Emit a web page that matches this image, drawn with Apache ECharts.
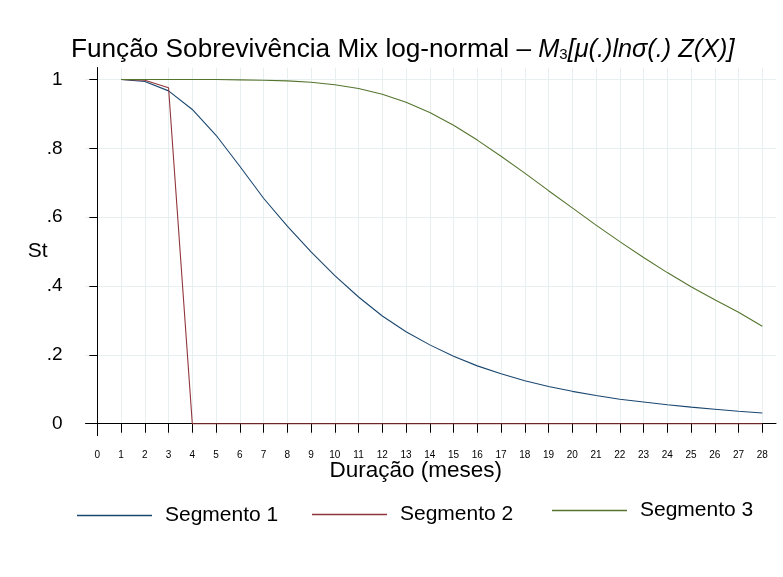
<!DOCTYPE html>
<html>
<head>
<meta charset="utf-8">
<title>Função Sobrevivência Mix log-normal</title>
<script src="https://cdn.jsdelivr.net/npm/echarts@6/dist/echarts.min.js"></script>
<style>
  html, body { margin: 0; padding: 0; background: #ffffff; }
  #chart { width: 783px; height: 577px; }
</style>
</head>
<body>
<div id="chart"></div>
<script>
// Survival duration in months
const months = [1, 2, 3, 4, 5, 6, 7, 8, 9, 10, 11, 12, 13, 14, 15, 16, 17, 18, 19, 20, 21, 22, 23, 24, 25, 26, 27, 28];

// Estimated survival function St for each segment
const segmento1 = [1.000, 0.994, 0.967, 0.913, 0.838, 0.748, 0.655, 0.574, 0.499, 0.430, 0.368, 0.313, 0.267, 0.229,
                   0.196, 0.168, 0.145, 0.125, 0.108, 0.094, 0.082, 0.071, 0.063, 0.055, 0.048, 0.042, 0.036, 0.031];
const segmento2 = [1.000, 0.998, 0.976, 0.000, 0.000, 0.000, 0.000, 0.000, 0.000, 0.000, 0.000, 0.000, 0.000, 0.000,
                   0.000, 0.000, 0.000, 0.000, 0.000, 0.000, 0.000, 0.000, 0.000, 0.000, 0.000, 0.000, 0.000, 0.000];
const segmento3 = [1.000, 1.000, 1.000, 1.000, 1.000, 0.999, 0.998, 0.996, 0.992, 0.985, 0.974, 0.957, 0.934, 0.904,
                   0.867, 0.824, 0.777, 0.728, 0.677, 0.627, 0.577, 0.529, 0.483, 0.439, 0.398, 0.360, 0.324, 0.283];

// Axis ticks
const xTicks = [0, 1, 2, 3, 4, 5, 6, 7, 8, 9, 10, 11, 12, 13, 14, 15, 16, 17, 18, 19, 20, 21, 22, 23, 24, 25, 26, 27, 28];
const yTicks = [0, 0.2, 0.4, 0.6, 0.8, 1];
const yTickLabels = ['0', '.2', '.4', '.6', '.8', '1'];

const seriesNames = ['Segmento 1', 'Segmento 2', 'Segmento 3'];
const seriesColors = ['#1a476f', '#90353b', '#55752f'];
const seriesData = [segmento1, segmento2, segmento3];

const FONT = '"Liberation Sans", Arial, sans-serif';
const GRID_COLOR = '#e7eff0';

const chart = echarts.init(document.getElementById('chart'), null, { renderer: 'canvas' });

const series = seriesNames.map((name, i) => ({
  name: name,
  type: 'line',
  data: months.map((m, k) => [m, seriesData[i][k]]),
  symbol: 'none',
  smooth: false,
  lineStyle: { color: seriesColors[i], width: 1.1 },
  itemStyle: { color: seriesColors[i] },
  emphasis: { disabled: true },
  z: 3
}));

// One legend box per series so each key can sit where it belongs
function legendAt(name, left, top) {
  return {
    data: [{ name: name, icon: 'rect' }],
    left: left,
    top: top,
    padding: 0,
    orient: 'horizontal',
    itemWidth: 75,
    itemHeight: 1.5,
    selectedMode: false,
    textStyle: { fontFamily: FONT, fontSize: 21, color: '#000', padding: [0, 0, 0, 8] }
  };
}

chart.setOption({
  animation: false,
  backgroundColor: '#ffffff',
  title: {
    left: 71,
    top: 37,
    padding: 0,
    text: '{a|Função Sobrevivência Mix log-normal – }{b|M}{s|3}{b|[μ(.)lnσ(.) Z(X)]}',
    textStyle: {
      fontWeight: 'normal',
      rich: {
        a: { fontFamily: FONT, fontSize: 26.2, fontWeight: 'normal', color: '#000' },
        b: { fontFamily: FONT, fontSize: 25.3, fontStyle: 'italic', fontWeight: 'normal', color: '#000' },
        s: { fontFamily: FONT, fontSize: 15, fontWeight: 'normal', color: '#000', padding: [9, 0, 0, 0] }
      }
    }
  },
  legend: [
    legendAt(seriesNames[0], 77, 505),
    legendAt(seriesNames[1], 312, 504),
    legendAt(seriesNames[2], 552, 500)
  ],
  grid: { left: 85.5, right: 7, top: 67.5, bottom: 141.3, containLabel: false },
  xAxis: {
    type: 'value',
    min: -0.497,
    max: 28.577,
    name: 'Duração (meses)',
    nameLocation: 'middle',
    nameMoveOverlap: false,
    nameGap: 24,
    nameTextStyle: { fontFamily: FONT, fontSize: 22.5, color: '#000', padding: [0, 30, 0, 0] },
    axisLine: { show: true, lineStyle: { color: '#000', width: 1 } },
    axisTick: { show: true, length: 9, customValues: xTicks, lineStyle: { color: '#000', width: 1 } },
    axisLabel: { show: true, customValues: xTicks, margin: 15, fontFamily: FONT, fontSize: 10, color: '#000' },
    splitLine: { show: true, lineStyle: { color: GRID_COLOR, width: 1 } }
  },
  yAxis: {
    type: 'value',
    min: -0.0349,
    max: 1.0349,
    name: 'St',
    nameLocation: 'middle',
    nameMoveOverlap: false,
    nameRotate: 0,
    nameGap: 38,
    nameTextStyle: { fontFamily: FONT, fontSize: 21, color: '#000' },
    axisLine: { show: true, lineStyle: { color: '#000', width: 1 } },
    axisTick: { show: true, length: 8, customValues: yTicks, lineStyle: { color: '#000', width: 1 } },
    axisLabel: {
      show: true,
      customValues: yTicks,
      margin: 23,
      fontFamily: FONT,
      fontSize: 19,
      color: '#000',
      formatter: function (v) {
        const k = yTicks.findIndex(t => Math.abs(t - v) < 1e-9);
        return k >= 0 ? yTickLabels[k] : '';
      }
    },
    splitLine: { show: true, lineStyle: { color: GRID_COLOR, width: 1 } }
  },
  series: series
});
</script>
</body>
</html>
